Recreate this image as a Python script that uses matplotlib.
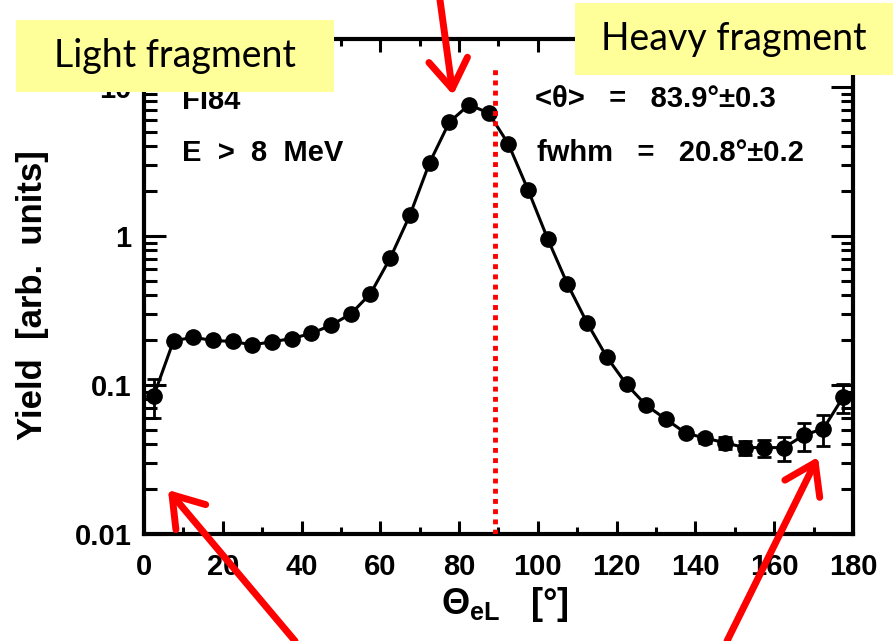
import numpy as np
import matplotlib.pyplot as plt
from matplotlib.patches import Rectangle

# angular distribution of fission fragments
theta = [2.5, 7.5, 12.5, 17.5, 22.5, 27.5, 32.5, 37.5, 42.5, 47.5,
         52.5, 57.5, 62.5, 67.5, 72.5, 77.5, 82.5, 87.5, 92.5, 97.5,
         102.5, 107.5, 112.5, 117.5, 122.5, 127.5, 132.5, 137.5, 142.5, 147.5,
         152.5, 157.5, 162.5, 167.5, 172.5, 177.5]
yield_vals = [0.085, 0.198, 0.209, 0.199, 0.196, 0.186, 0.195, 0.205, 0.222, 0.252,
              0.30, 0.41, 0.71, 1.38, 3.1, 5.8, 7.6, 6.7, 4.15, 2.04,
              0.955, 0.476, 0.261, 0.154, 0.101, 0.073, 0.059, 0.0476, 0.044, 0.041,
              0.038, 0.038, 0.038, 0.046, 0.051, 0.083]
yield_err = [0.025, 0, 0, 0, 0, 0, 0, 0, 0, 0,
             0, 0, 0, 0, 0, 0, 0, 0, 0, 0,
             0, 0, 0, 0, 0, 0, 0, 0, 0.003, 0.004,
             0.004, 0.005, 0.007, 0.01, 0.012, 0.018]

split_angle = 89
xticks = [0, 20, 40, 60, 80, 100, 120, 140, 160, 180]
yticks = [0.01, 0.1, 1, 10]
ytick_labels = ['0.01', '0.1', '1', '10']

old_font = ['Liberation Sans Narrow', 'Liberation Sans', 'DejaVu Sans']
plt.rcParams['font.family'] = old_font
plt.rcParams['font.weight'] = 'bold'
plt.rcParams['mathtext.fontset'] = 'custom'
plt.rcParams['mathtext.rm'] = 'Liberation Sans:bold'
plt.rcParams['mathtext.it'] = 'Liberation Sans:bold'
plt.rcParams['mathtext.bf'] = 'Liberation Sans:bold'

W, H = 895, 641
fig = plt.figure(figsize=(W / 100, H / 100), dpi=100)
ax = fig.add_axes([144 / W, 1 - 534 / H, 709 / W, 495 / H])

ax.errorbar(theta, yield_vals, yerr=yield_err, fmt='o-', color='black',
            ms=11, lw=2.2, elinewidth=2, capsize=5, capthick=2)

ax.axvline(split_angle, ymin=0, ymax=0.94, color='red', lw=3.5,
           ls=(0, (1, 1.1)), zorder=5)

ax.set_yscale('log')
ax.set_xlim(0, 180)
ax.set_ylim(0.01, 21)
ax.set_xticks(xticks)
ax.set_xticks(range(10, 180, 20), minor=True)
ax.set_yticks(yticks)
ax.set_yticklabels(ytick_labels)

for s in ax.spines.values():
    s.set_linewidth(3)
ax.tick_params(which='both', direction='in', top=True, right=True,
               labelsize=21, width=2.2)
ax.tick_params(axis='x', which='major', length=9.5, pad=14)
ax.tick_params(axis='x', which='minor', length=5)
ax.tick_params(axis='y', which='major', length=16, pad=9)
ax.tick_params(axis='y', which='minor', length=9)

# in-plot notes
ax.text(0.054, 0.875, 'FI84', transform=ax.transAxes, fontsize=21, va='center')
ax.text(0.054, 0.770, 'E  >  8  MeV', transform=ax.transAxes, fontsize=21, va='center')
ax.text(0.551, 0.879, '<θ>   =   83.9°±0.3', transform=ax.transAxes, fontsize=21, va='center')
ax.text(0.554, 0.770, 'fwhm   =   20.8°±0.2', transform=ax.transAxes, fontsize=21, va='center')

fig.text(33 / W, 1 - 295 / H, 'Yield  [arb.  units]', rotation=90,
         ha='center', va='center', fontsize=25)
fig.text(505 / W, 1 - 605 / H, r'$\Theta_{\rm eL}$   [°]',
         ha='center', va='center', fontsize=26)

# yellow label boxes
boxes = [((16, 20, 334, 92), 'Light fragment'),
         ((575, 3, 893, 75), 'Heavy fragment')]
for (x0, y0, x1, y1), label in boxes:
    fig.patches.append(Rectangle((x0 / W, 1 - y1 / H), (x1 - x0) / W, (y1 - y0) / H,
                                 transform=fig.transFigure, facecolor='#FFFF99',
                                 edgecolor='none', zorder=10))
    fig.text((x0 + x1) / 2 / W, 1 - (y0 + y1) / 2 / H, label, ha='center', va='center',
             fontsize=27, family='Lato', weight='normal', zorder=11)

# red arrows
arrows = [((440, 0), (453, 95)), ((295, 641), (168, 490)), ((727, 641), (818, 457))]
for (tx, ty), (hx, hy) in arrows:
    ax.annotate('', xy=(hx, H - hy), xycoords='figure pixels',
                xytext=(tx, H - ty), textcoords='figure pixels',
                arrowprops=dict(arrowstyle='->, head_length=1.05, head_width=0.7',
                                color='red', lw=5, mutation_scale=20,
                                shrinkA=0, shrinkB=0),
                annotation_clip=False, zorder=12)

plt.savefig('out.png', dpi=100)
